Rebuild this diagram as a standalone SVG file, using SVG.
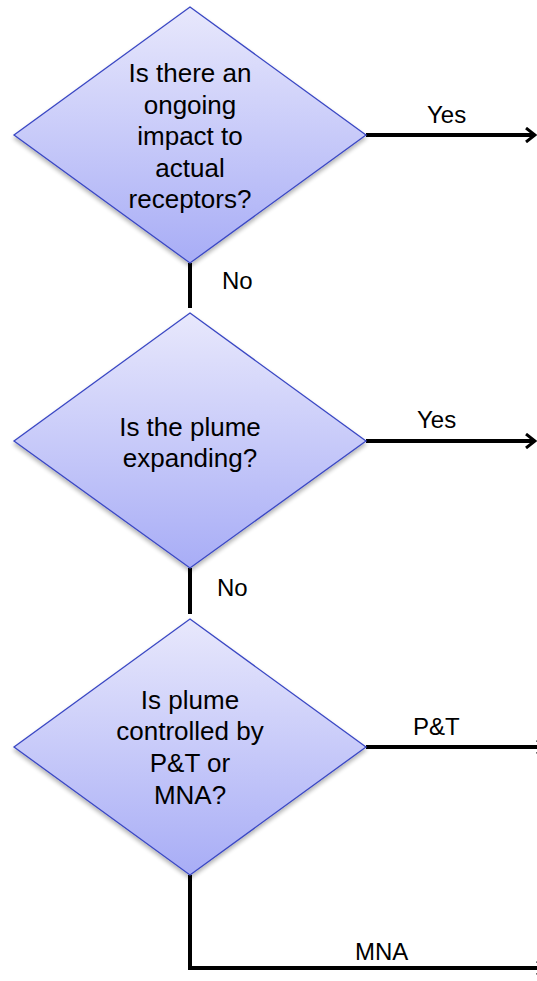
<svg xmlns="http://www.w3.org/2000/svg" width="537" height="981" viewBox="0 0 537 981">
<style>
.d{fill:url(#g);stroke:#3b48c4;stroke-width:1.3}
.t{font-family:"Liberation Sans",Arial,sans-serif;font-size:26px;fill:#000;text-anchor:middle}
.l{font-family:"Liberation Sans",Arial,sans-serif;font-size:24px;fill:#000}
.c{fill:none;stroke:#000;stroke-width:4}
</style>
<defs>
<linearGradient id="g" x1="0" y1="0" x2="0" y2="1">
<stop offset="0" stop-color="#e8e8fc"/>
<stop offset="1" stop-color="#a8adf6"/>
</linearGradient>
<filter id="s" x="-10%" y="-10%" width="120%" height="125%">
<feGaussianBlur in="SourceAlpha" stdDeviation="2"/>
<feOffset dx="0" dy="3"/>
<feComponentTransfer><feFuncA type="linear" slope="0.3"/></feComponentTransfer>
<feMerge><feMergeNode/><feMergeNode in="SourceGraphic"/></feMerge>
</filter>
<marker id="a" markerUnits="userSpaceOnUse" markerWidth="14" markerHeight="16" refX="12" refY="8" orient="auto">
<path d="M3,1 L12,8 L3,15" fill="none" stroke="#000" stroke-width="3"/>
</marker>
</defs>
<g id="connectors">
<path class="c" d="M190,263 L190,308"/>
<path class="c" d="M190,568 L190,614"/>
<path class="c" d="M366,135 L535,135" marker-end="url(#a)"/>
<path class="c" d="M366,441 L535,441" marker-end="url(#a)"/>
<path class="c" d="M366,747 L546,747" marker-end="url(#a)"/>
<path class="c" d="M190,875 L190,968 L546,968" marker-end="url(#a)"/>
<text class="l" x="222" y="289">No</text>
<text class="l" x="217" y="596">No</text>
<text class="l" x="427" y="123">Yes</text>
<text class="l" x="417" y="428">Yes</text>
<text class="l" x="413" y="735">P&amp;T</text>
<text class="l" x="355" y="960">MNA</text>
</g>
<g id="q1">
<polygon class="d" filter="url(#s)" points="190,7 366,135 190,263 14,135"/>
<text class="t" x="190" y="82">Is there an</text>
<text class="t" x="190" y="113.5">ongoing</text>
<text class="t" x="190" y="145">impact to</text>
<text class="t" x="190" y="176.5">actual</text>
<text class="t" x="190" y="208">receptors?</text>
</g>
<g id="q2">
<polygon class="d" filter="url(#s)" points="190,313 366,441 190,568 14,441"/>
<text class="t" x="190" y="436">Is the plume</text>
<text class="t" x="190" y="467">expanding?</text>
</g>
<g id="q3">
<polygon class="d" filter="url(#s)" points="190,619 366,747 190,875 14,747"/>
<text class="t" x="190" y="709">Is plume</text>
<text class="t" x="190" y="740">controlled by</text>
<text class="t" x="190" y="772">P&amp;T or</text>
<text class="t" x="190" y="804">MNA?</text>
</g>
</svg>
